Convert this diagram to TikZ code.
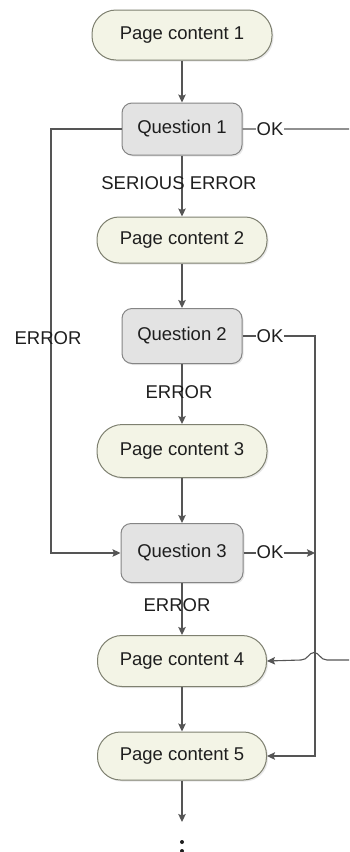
\documentclass[tikz,border=0pt]{standalone}
\usepackage{fontspec}
\setmainfont{Liberation Sans}
\usetikzlibrary{arrows.meta,shadows}
\definecolor{linegray}{HTML}{555555}
\definecolor{pagefill}{HTML}{F3F4E6}
\definecolor{pageline}{HTML}{7E8070}
\definecolor{qfill}{HTML}{E3E3E3}
\definecolor{qline}{HTML}{858585}
\definecolor{txt}{HTML}{1E1E1E}
\tikzset{
  flow/.style={draw=linegray, line width=1.1pt, -{Stealth[length=8pt,width=7.5pt,inset=1.5pt]}},
  pagebox/.style 2 args={draw=pageline, fill=pagefill, line width=1pt,
    minimum width=#1, minimum height=#2, rounded corners=0.5*#2-1pt,
    text=txt, font=\fontsize{18.5}{20}\selectfont, inner sep=0pt,
    drop shadow={opacity=0.18, shadow xshift=1.5pt, shadow yshift=-1.5pt}},
  qbox/.style 2 args={draw=qline, fill=qfill, line width=1pt,
    minimum width=#1, minimum height=#2, rounded corners=10pt,
    text=txt, font=\fontsize{18.5}{20}\selectfont, inner sep=0pt,
    drop shadow={opacity=0.18, shadow xshift=1.5pt, shadow yshift=-1.5pt}},
  lbl/.style={text=txt, font=\fontsize{18.5}{20}\selectfont, inner sep=0.5pt},
  oklbl/.style={lbl, fill=white, inner xsep=1pt}
}
\begin{document}
\begin{tikzpicture}[x=1pt, y=-1pt]
  \useasboundingbox (0,0) rectangle (349,852);
  \fill[white] (0,0) rectangle (349,852);
  \clip (0,0) rectangle (349,852);

  % boxes
  \node[pagebox={180pt}{50pt}] (pc1) at (182,35) {Page content 1};
  \node[qbox={120pt}{52pt}]    (q1)  at (182,129) {Question 1};
  \node[pagebox={170pt}{46pt}] (pc2) at (182,240) {Page content 2};
  \node[qbox={120pt}{55pt}]    (q2)  at (182,336) {Question 2};
  \node[pagebox={170pt}{53pt}] (pc3) at (182,451) {Page content 3};
  \node[qbox={122pt}{59pt}]    (q3)  at (182,553) {Question 3};
  \node[pagebox={169pt}{51pt}] (pc4) at (182,661) {Page content 4};
  \node[pagebox={169pt}{48pt}] (pc5) at (182,756) {Page content 5};

  % routing points
  \coordinate (r1) at (365,129);
  \coordinate (r2) at (365,660);
  \coordinate (l1) at (51,129);
  \coordinate (l2) at (51,553);
  \coordinate (v1) at (315,336);
  \coordinate (v2) at (315,756);
  \coordinate (m3) at (315,553);
  \coordinate (more) at (182,822);

  % main column
  \draw[flow] (pc1.south) -- (q1.north);
  \draw[flow] (q1.south) -- (pc2.north);
  \draw[flow] (pc2.south) -- (q2.north);
  \draw[flow] (q2.south) -- (pc3.north);
  \draw[flow] (pc3.south) -- (q3.north);
  \draw[flow] (q3.south) -- (pc4.north);
  \draw[flow] (pc4.south) -- (pc5.north);
  \draw[flow] (pc5.south) -- (more);

  % error branch from question 1
  \draw[flow] (q1.west) -- (l1) -- (l2) -- (q3.west);

  % ok branch from question 1, hopping over the right rail
  \draw[flow] (q1.east) -- (r1) -- (r2) -- (327,660)
    .. controls (320,660) and (319.5,652.5) .. (314,652.5)
    .. controls (308.5,652.5) and (308,660) .. (301,660)
    -- (pc4.east);

  % ok branch from question 2
  \draw[flow] (q2.east) -- (v1) -- (v2) -- (pc5.east);

  % ok branch from question 3 joins the rail
  \draw[flow] (q3.east) -- (m3);

  % labels
  \node[lbl] (se) at (179,183) {SERIOUS ERROR};
  \node[lbl] (e1) at (48,338) {ERROR};
  \node[lbl] (e2) at (179,392) {ERROR};
  \node[lbl] (e3) at (177,605) {ERROR};
  \node[oklbl] (ok1) at (270,129) {OK};
  \node[oklbl] (ok2) at (270,336) {OK};
  \node[oklbl] (ok3) at (270,552) {OK};

  % continuation dots
  \fill[txt] (182,842) circle (2pt);
  \fill[txt] (182,851) circle (2pt);
\end{tikzpicture}
\end{document}
